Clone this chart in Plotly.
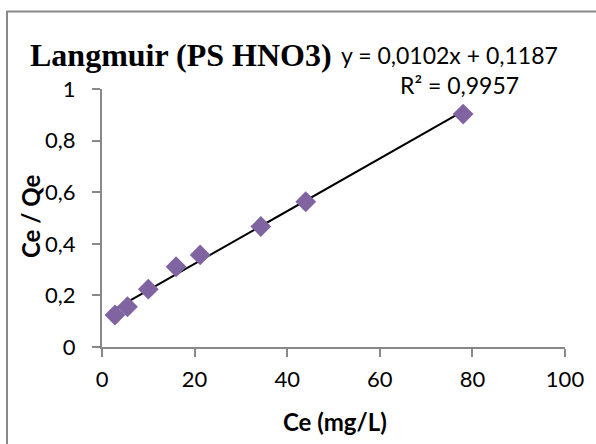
import plotly.graph_objects as go

ce = [2.8, 5.5, 10.0, 16.0, 21.2, 34.3, 44.0, 78.0]
ce_qe = [0.124, 0.156, 0.224, 0.311, 0.357, 0.467, 0.563, 0.903]
slope = 0.0102
intercept = 0.1187
x_ticks = [0, 20, 40, 60, 80, 100]
y_ticks = [0, 0.2, 0.4, 0.6, 0.8, 1]

fit_x = [min(ce), max(ce)]
fit_y = [slope * v + intercept for v in fit_x]

fig = go.Figure()
fig.add_trace(go.Scatter(x=fit_x, y=fit_y, mode="lines",
                         line=dict(color="black", width=2), showlegend=False,
                         hoverinfo="skip"))
fig.add_trace(go.Scatter(x=ce, y=ce_qe, mode="markers",
                         marker=dict(symbol="diamond", size=16, color="#8064A2",
                                     line=dict(width=0)),
                         showlegend=False))

SANS = "Lato, Open Sans, sans-serif"
tickfont = dict(family=SANS, size=22, color="black")
axis_common = dict(showgrid=False, zeroline=False, showline=True, linecolor="#888888",
                   linewidth=2, ticks="outside", ticklen=8, tickwidth=2,
                   tickcolor="#888888", tickfont=tickfont)
fig.update_xaxes(range=[0, 100], tickvals=x_ticks, ticklabelstandoff=4, **axis_common)
fig.update_yaxes(range=[0, 1], tickvals=y_ticks, ticklabelstandoff=12, **axis_common)

def px(x):
    return (x - 102) / 463

def py(y):
    return (347 - y) / 258

fig.update_layout(
    width=596, height=444,
    margin=dict(l=102, r=31, t=89, b=97),
    paper_bgcolor="white", plot_bgcolor="white",
    separators=", ",
    shapes=[dict(type="rect", xref="paper", yref="paper",
                 x0=px(7), x1=1.2, y0=-0.5, y1=py(11.5),
                 line=dict(color="#888888", width=2), layer="below")],
    annotations=[
        dict(text="<b>Langmuir (PS HNO3)</b>", xref="paper", yref="paper",
             x=px(28), y=py(55), xanchor="left", yanchor="middle",
             showarrow=False,
             font=dict(family="Liberation Serif, Times New Roman, serif", size=32, color="black")),
        dict(text="y = 0,0102x + 0,1187", xref="paper", yref="paper",
             x=px(339), y=py(55), xanchor="left", yanchor="middle",
             showarrow=False,
             font=dict(family=SANS, size=23, color="black")),
        dict(text="R² = 0,9957", xref="paper", yref="paper",
             x=px(459), y=py(85), xanchor="center", yanchor="middle",
             showarrow=False,
             font=dict(family=SANS, size=23, color="black")),
        dict(text="<b>Ce (mg/L)</b>", xref="paper", yref="paper",
             x=px(335), y=py(421), xanchor="center", yanchor="middle",
             showarrow=False,
             font=dict(family=SANS, size=24, color="black")),
        dict(text="<b>Ce / Qe</b>", xref="paper", yref="paper", textangle=-90,
             x=px(30), y=py(216), xanchor="center", yanchor="middle",
             showarrow=False,
             font=dict(family=SANS, size=24, color="black")),
    ],
)

fig.write_html("out.html")
